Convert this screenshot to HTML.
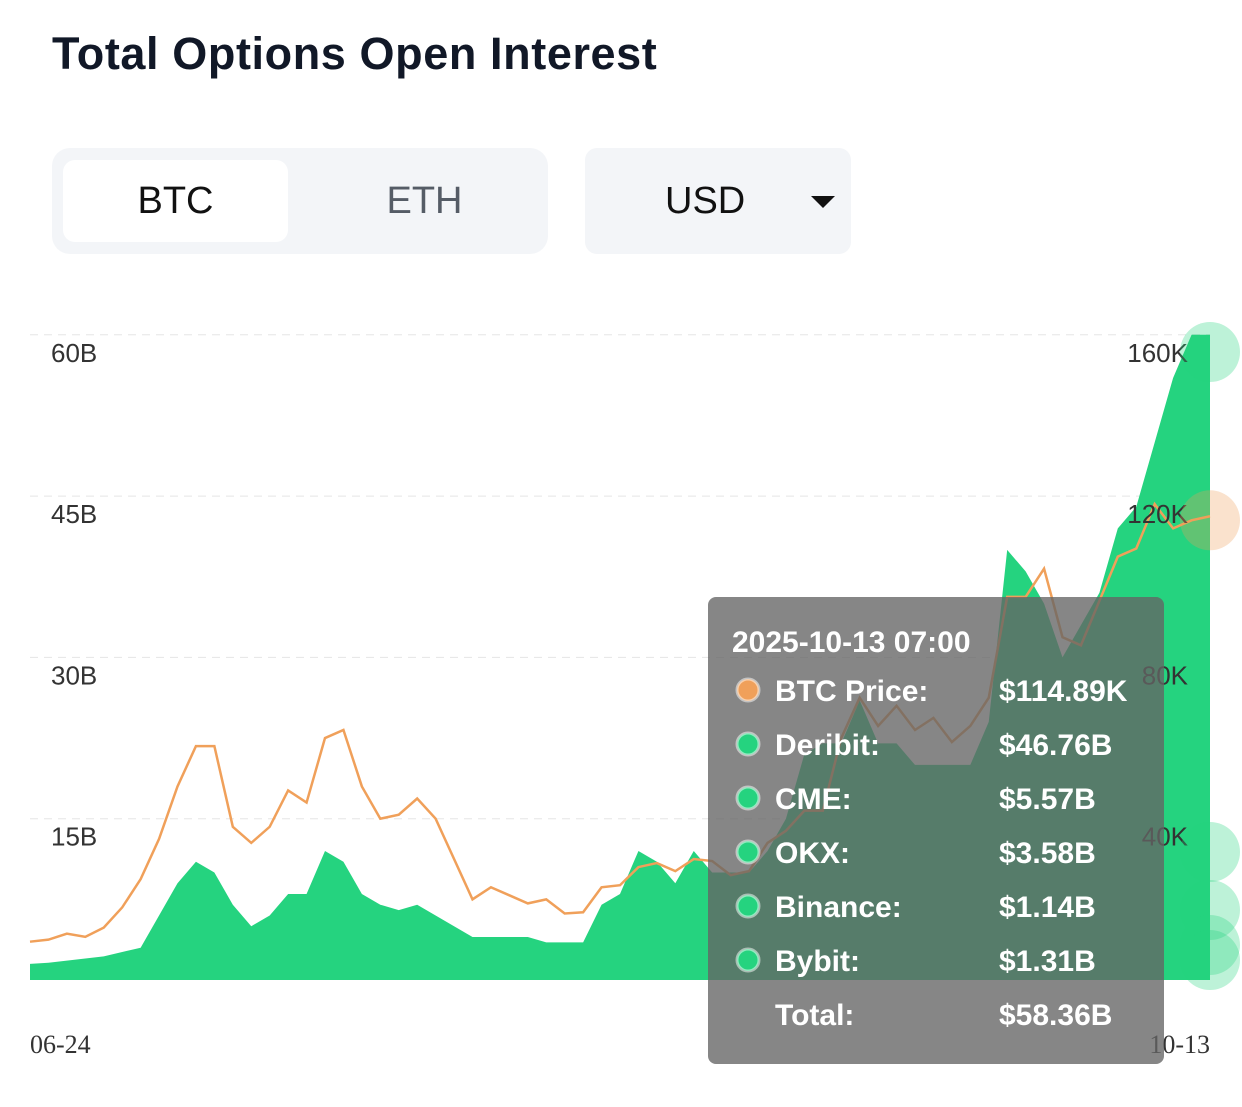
<!DOCTYPE html>
<html><head><meta charset="utf-8"><style>
body{margin:0;width:1242px;height:1107px;background:#fff;font-family:"Liberation Sans",sans-serif;position:relative;overflow:hidden}
.t{position:absolute;left:52px;top:28px;font-size:45px;font-weight:600;color:#111827;letter-spacing:0.6px}
.seg{position:absolute;left:52px;top:148px;width:496px;height:106px;background:#f3f5f8;border-radius:18px}
.tab{position:absolute;top:12px;height:82px;width:225px;font-size:38px;line-height:82px;text-align:center;border-radius:12px}
.usd{position:absolute;left:585px;top:148px;width:266px;height:106px;background:#f3f5f8;border-radius:12px}
svg{position:absolute;left:0;top:0}
</style></head><body>
<div class="t">Total Options Open Interest</div>
<div class="seg">
<div class="tab" style="left:11px;background:#fff;color:#111">BTC</div>
<div class="tab" style="left:260px;color:#555c66">ETH</div>
</div>
<div class="usd">
<div style="position:absolute;left:80px;top:0;line-height:106px;font-size:38px;color:#111">USD</div>
<div style="position:absolute;left:226px;top:48px;width:0;height:0;border-left:12px solid transparent;border-right:12px solid transparent;border-top:12px solid #111"></div>
</div>
<svg id="c" width="1242" height="1107"></svg>
<script>
const oiValues=[1.5,1.6,1.8,2,2.2,2.6,3,6,9,11,10,7,5,6,8,8,12,11,8,7,6.5,7,6,5,4,4,4,4,3.5,3.5,3.5,7,8,12,11,9,12,10,10,10,12,15,21,22,22,26,22,22,20,20,20,20,24,40,38,35,30,33,36,42,44,50,56,60,60];
const priceValues=[9.5,10,11.5,10.7,13,18,25,35,48,58,58,38,34,38,47,44,60,62,48,40,41,45,40,30,20,23,21,19,20,16.5,16.8,23,23.5,28,29,27,30,29.5,26,27,34,37,42,42,60,70,63,68,62,65,59,63,70,95,95,102,85,83,94,105,107,118,112,114,115];
const leftTicks=["15B","30B","45B","60B"];
const rightTicks=["40K","80K","120K","160K"];
const X0=30,X1=1210,Y0=980,STEP=161.3;
const x=i=>X0+(X1-X0)*i/(oiValues.length-1);
const yL=v=>Y0-v/15*STEP;
const yR=v=>Y0-v/40*STEP;
const svg=document.getElementById('c');const NS='http://www.w3.org/2000/svg';
function mk(t,a,txt){const e=document.createElementNS(NS,t);for(const k in a)e.setAttribute(k,a[k]);if(txt)e.textContent=txt;svg.appendChild(e);return e;}
leftTicks.forEach((t,i)=>{const y=Y0-(i+1)*STEP;
const g=mk('line',{x1:30,y1:y,x2:1210,y2:y,stroke:'#e5e5e5','stroke-dasharray':'8,6'});

});
let d='M'+x(0)+','+Y0;oiValues.forEach((v,i)=>d+=' L'+x(i)+','+yL(v));d+=' L'+x(oiValues.length-1)+','+Y0+' Z';
const area=mk('path',{d:d,fill:'#25d37f'});


let p='';priceValues.forEach((v,i)=>p+=(i?' L':'M')+x(i)+','+yR(v));
const line=mk('path',{d:p,fill:'none',stroke:'#f0a05a','stroke-width':2.5});


leftTicks.forEach((t,i)=>{const y=Y0-(i+1)*STEP;
const a=mk('text',{x:51,y:y+27,'font-size':26,fill:'#333'},t);


const b=mk('text',{x:1188,y:y+27,'font-size':26,fill:'#333','text-anchor':'end'},rightTicks[i]);

});
const xa=mk('text',{x:30,y:1053,'font-size':26,fill:'#333','font-family':'Liberation Serif'},'06-24');


const xb=mk('text',{x:1210,y:1053,'font-size':26,fill:'#333','font-family':'Liberation Serif','text-anchor':'end'},'10-13');


const lx=x(oiValues.length-1);
[[352,'#25d37f'],[yR(priceValues[63]),'#f0a05a'],[852,'#25d37f'],[910,'#25d37f'],[945,'#25d37f'],[960,'#25d37f']].forEach(c=>{
const e=mk('circle',{cx:lx,cy:c[0],r:30,fill:c[1],opacity:0.3});

});
const tip=mk('rect',{x:708,y:597,width:456,height:467,rx:8,fill:'rgba(100,100,100,0.78)'});


const tt=mk('text',{x:732,y:652,'font-size':30,'font-weight':'bold',fill:'#fff'},'2025-10-13 07:00');


const rows=[['BTC Price:','$114.89K','#f0a05a'],['Deribit:','$46.76B','#25d37f'],['CME:','$5.57B','#25d37f'],['OKX:','$3.58B','#25d37f'],['Binance:','$1.14B','#25d37f'],['Bybit:','$1.31B','#25d37f'],['Total:','$58.36B',null]];
rows.forEach((r,i)=>{const y=690+i*54;
if(r[2]){const c=mk('circle',{cx:748,cy:y,r:11,fill:r[2],stroke:'rgba(255,255,255,0.5)','stroke-width':3});

}
const a=mk('text',{x:775,y:y+11,'font-size':30,'font-weight':'bold',fill:'#fff'},r[0]);


const b=mk('text',{x:999,y:y+11,'font-size':30,'font-weight':'bold',fill:'#fff'},r[1]);

});
</script>
</body></html>
